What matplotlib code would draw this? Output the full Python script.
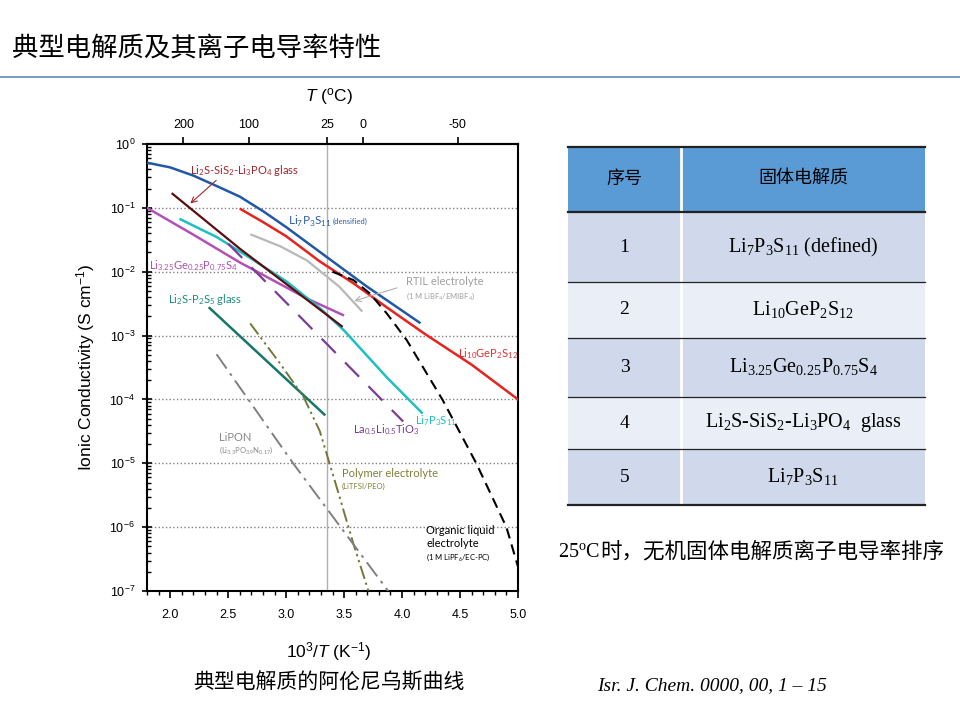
import re
import numpy as np
import matplotlib
matplotlib.use('Agg')
import matplotlib.pyplot as plt
from matplotlib.patches import Rectangle
from matplotlib.ticker import FixedLocator, FuncFormatter

plt.rcParams['font.family'] = ['Liberation Sans', 'Noto Sans CJK SC']
plt.rcParams['mathtext.fontset'] = 'custom'
plt.rcParams['mathtext.rm'] = 'Liberation Serif'
plt.rcParams['mathtext.it'] = 'Liberation Sans:italic'
plt.rcParams['mathtext.sf'] = 'Liberation Sans'
plt.rcParams['mathtext.tt'] = 'Lato'

# ---- data (x = 1000/T in 1/K, sigma in S/cm) ----
temps_c = [200, 100, 25, 0, -50]

li7_dens_x = [1.80, 2.00, 2.20, 2.40, 2.60, 2.80, 3.00, 3.35, 3.70, 4.15]
li7_dens_s = [5.1e-1, 4.3e-1, 3.2e-1, 2.2e-1, 1.5e-1, 8.9e-2, 5.0e-2, 1.7e-2, 5.8e-3, 1.6e-3]

lgps_x = [2.61, 2.80, 3.00, 3.29, 3.58, 3.87, 4.20, 4.60, 5.00]
lgps_s = [9.5e-2, 6.0e-2, 3.6e-2, 1.45e-2, 6.6e-3, 2.75e-3, 1.05e-3, 3.5e-4, 1.0e-4]

sis_glass_x = [2.02, 2.60, 3.48]
sis_glass_s = [1.66e-1, 2.3e-2, 1.4e-3]

lgps325_x = [1.80, 2.20, 2.60, 3.18, 3.49]
lgps325_s = [1.0e-1, 3.8e-2, 1.4e-2, 3.8e-3, 2.1e-3]

li7_x = [2.09, 2.40, 2.70, 3.00, 3.30, 3.50, 3.87, 4.17]
li7_s = [6.6e-2, 3.5e-2, 1.6e-2, 7.1e-3, 2.6e-3, 1.2e-3, 2.2e-4, 6.2e-5]

rtil_x = [2.70, 2.95, 3.18, 3.46, 3.65]
rtil_s = [3.8e-2, 2.5e-2, 1.5e-2, 5.8e-3, 2.45e-3]

organic_x = [3.40, 3.58, 3.72, 3.87, 4.04, 4.35, 4.64, 4.90, 5.00]
organic_s = [1.0e-2, 7.4e-3, 4.6e-3, 2.2e-3, 8.5e-4, 9.8e-5, 1.0e-5, 1.0e-6, 2.4e-7]

polymer_x = [2.69, 2.95, 3.15, 3.29, 3.35, 3.44, 3.58, 3.71]
polymer_s = [1.55e-3, 3.6e-4, 1.1e-4, 3.2e-5, 1.4e-5, 4.0e-6, 5.5e-7, 1.0e-7]

lipon_x = [2.40, 3.06, 3.88]
lipon_s = [5.1e-4, 1.0e-5, 1.0e-7]

ps_glass_x = [2.34, 3.33]
ps_glass_s = [2.7e-3, 5.8e-5]

llto_x = [2.50, 4.01]
llto_s = [2.75e-2, 4.5e-5]

# table
table_header = ['序号', '固体电解质']
table_rank = ['1', '2', '3', '4', '5']
table_names = ['Li_{7}P_{3}S_{11} (defined)', 'Li_{10}GeP_{2}S_{12}',
               'Li_{3.25}Ge_{0.25}P_{0.75}S_{4}', 'Li_{2}S-SiS_{2}-Li_{3}PO_{4}  glass',
               'Li_{7}P_{3}S_{11}']


def chem(s, cmd):
    return re.sub(r'_\{([^}]*)\}', lambda m: '$_{\\%s{%s}}$' % (cmd, m.group(1)), s)


fig = plt.figure(figsize=(9.6, 7.2), dpi=100)

# ---- slide background layer (pixel coordinates) ----
bg = fig.add_axes([0, 0, 1, 1])
bg.set_xlim(0, 960)
bg.set_ylim(720, 0)
bg.axis('off')

bg.text(12, 48, '典型电解质及其离子电导率特性', fontsize=19, va='center', ha='left',
        family=['Noto Sans CJK SC'])
bg.plot([0, 960], [77, 77], color='#7094bd', lw=1.3)

bg.text(329, 683, '典型电解质的阿伦尼乌斯曲线', fontsize=15, va='center', ha='center',
        family=['Noto Sans CJK SC'])
bg.text(597, 686, 'Isr. J. Chem. 0000, 00, 1 – 15', fontsize=14, style='italic',
        va='center', ha='left', family=['Liberation Serif'])

row_edges = [147, 212, 282, 338, 397, 449, 505]
col_edges = [568, 681, 925]
row_colors = ['#5b9bd5', '#cfd9eb', '#e9eef7', '#cfd9eb', '#e9eef7', '#cfd9eb']
for i, c in enumerate(row_colors):
    bg.add_patch(Rectangle((col_edges[0], row_edges[i]), col_edges[2] - col_edges[0],
                           row_edges[i + 1] - row_edges[i], facecolor=c, edgecolor='none'))
bg.plot([col_edges[1], col_edges[1]], [row_edges[0], row_edges[-1]], color='white', lw=2)
for i, yv in enumerate(row_edges):
    bg.plot([col_edges[0], col_edges[2]], [yv, yv], color='#222222',
            lw=1.6 if i in (0, 1, len(row_edges) - 1) else 0.9)

tfam = ['Liberation Serif', 'Noto Sans CJK SC']
cx0 = (col_edges[0] + col_edges[1]) / 2
cx1 = (col_edges[1] + col_edges[2]) / 2
yc = (row_edges[0] + row_edges[1]) / 2
bg.text(cx0, yc, table_header[0], fontsize=13, ha='center', va='center', family=tfam)
bg.text(cx1, yc, table_header[1], fontsize=13, ha='center', va='center', family=tfam)
for i, (r, n) in enumerate(zip(table_rank, table_names)):
    yc = (row_edges[i + 1] + row_edges[i + 2]) / 2
    bg.text(cx0, yc, r, fontsize=14, ha='center', va='center', family=tfam)
    bg.text(cx1, yc, chem(n, 'mathrm'), fontsize=14.5, ha='center', va='center', family=tfam)

note_t = bg.text(558, 558, '25$^{\\mathrm{o}}$C', fontsize=14.5, ha='left', va='baseline',
                 family=['Liberation Serif'])
bg.annotate('时，无机固体电解质离子电导率排序', xy=(1, 0), xycoords=note_t,
            fontsize=15.5, ha='left', va='bottom', family=['Noto Sans CJK SC'])

# ---- Arrhenius chart ----
ax = fig.add_axes([147 / 960, 1 - 591 / 720, 371 / 960, 447 / 720])
ax.set_yscale('log')
ax.set_xlim(1.8, 5.0)
ax.set_ylim(1e-7, 1)

for k in range(1, 7):
    ax.axhline(10.0 ** -k, color='#808080', ls=':', lw=1, zorder=1)
ax.axvline(1000 / 298.15, color='#b0b0b0', lw=1, zorder=1)

ax.plot(li7_dens_x, li7_dens_s, color='#2158a6', lw=1.8, zorder=3)
ax.plot(lgps_x, lgps_s, color='#e8231f', lw=1.8, zorder=3)
ax.plot(rtil_x, rtil_s, color='#b8b8b8', lw=1.6, zorder=2)
ax.plot(lgps325_x, lgps325_s, color='#b251b5', lw=1.8, zorder=3)
ax.plot(li7_x, li7_s, color='#1cbfc2', lw=1.8, zorder=3)
ax.plot(sis_glass_x, sis_glass_s, color='#5e0d10', lw=1.6, zorder=4)
ax.plot(ps_glass_x, ps_glass_s, color='#16766a', lw=1.8, zorder=3)
ax.plot(llto_x, llto_s, color='#7a3d96', lw=1.6, dashes=(9, 6), zorder=3)
ax.plot(organic_x, organic_s, color='black', lw=1.5, dashes=(5, 3), zorder=3)
ax.plot(polymer_x, polymer_s, color='#76763a', lw=1.4, dashes=(7, 2, 1.2, 2, 1.2, 2), zorder=3)
ax.plot(lipon_x, lipon_s, color='#808080', lw=1.4, dashes=(9, 3, 1.5, 3), zorder=3)

lf = ['Lato', 'DejaVu Sans']
ax.text(2.17, 10 ** -0.42, chem('Li_{2}S-SiS_{2}-Li_{3}PO_{4} glass', 'mathtt'), color='#a0282d',
        fontsize=8, va='center', family=lf)
ax.annotate('', xy=(2.156, 10 ** -0.96), xytext=(2.415, 10 ** -0.54),
            arrowprops=dict(arrowstyle='->', color='#a0282d', lw=0.8))
ax.text(3.02, 10 ** -1.22, chem('Li_{7}P_{3}S_{11}', 'mathtt'), color='#2d5ea8',
        fontsize=8.5, va='center', family=lf)
ax.text(3.40, 10 ** -1.21, '(densified)', color='#2d5ea8', fontsize=5.5, va='center', family=lf)
ax.text(1.82, 10 ** -1.90, chem('Li_{3.25}Ge_{0.25}P_{0.75}S_{4}', 'mathtt'), color='#b04fb0',
        fontsize=8, va='center', family=lf)
ax.text(1.98, 10 ** -2.43, chem('Li_{2}S-P_{2}S_{5} glass', 'mathtt'), color='#1d8c7c',
        fontsize=8, va='center', family=lf)
ax.text(4.03, 10 ** -2.16, 'RTIL electrolyte', color='#a0a0a0', fontsize=8, va='center', family=lf)
ax.text(4.03, 10 ** -2.38, chem('(1 M LiBF_{4}/EMIBF_{4})', 'mathtt'), color='#a0a0a0',
        fontsize=5.5, va='center', family=lf)
ax.annotate('', xy=(3.565, 10 ** -2.47), xytext=(3.98, 10 ** -2.24),
            arrowprops=dict(arrowstyle='->', color='#b0b0b0', lw=0.8))
ax.text(4.48, 10 ** -3.28, chem('Li_{10}GeP_{2}S_{12}', 'mathtt'), color='#e83030',
        fontsize=8, va='center', family=lf)
ax.text(4.11, 10 ** -4.33, chem('Li_{7}P_{3}S_{11}', 'mathtt'), color='#20c0c0',
        fontsize=8, va='center', family=lf)
ax.text(3.58, 10 ** -4.48, chem('La_{0.5}Li_{0.5}TiO_{3}', 'mathtt'), color='#7a3d96',
        fontsize=8, va='center', family=lf)
ax.text(2.42, 10 ** -4.59, 'LiPON', color='#8a8a8a', fontsize=8, va='center', family=lf)
ax.text(2.42, 10 ** -4.80, chem('(Li_{3.3}PO_{3.9}N_{0.17})', 'mathtt'), color='#8a8a8a',
        fontsize=5.5, va='center', family=lf)
ax.text(3.48, 10 ** -5.16, 'Polymer electrolyte', color='#7f7f3a', fontsize=8, va='center', family=lf)
ax.text(3.48, 10 ** -5.36, '(LiTFSI/PEO)', color='#7f7f3a', fontsize=5.5, va='center', family=lf)
ax.text(4.21, 10 ** -6.05, 'Organic liquid', color='black', fontsize=8, va='center', family=lf)
ax.text(4.21, 10 ** -6.25, 'electrolyte', color='black', fontsize=8, va='center', family=lf)
ax.text(4.21, 10 ** -6.47, chem('(1 M LiPF_{6}/EC-PC)', 'mathtt'), color='black',
        fontsize=5.5, va='center', family=lf)

ax.xaxis.set_major_locator(FixedLocator(np.arange(2.0, 5.01, 0.5)))
ax.xaxis.set_minor_locator(FixedLocator(np.arange(1.8, 5.01, 0.1)))
ax.xaxis.set_major_formatter(FuncFormatter(lambda v, p: '%.1f' % v))
ax.yaxis.set_major_locator(FixedLocator([10.0 ** -k for k in range(0, 8)]))
ax.yaxis.set_major_formatter(FuncFormatter(
    lambda v, p: '$\\mathsf{10^{%d}}$' % round(np.log10(v))))
ax.tick_params(axis='x', which='major', direction='out', length=5, width=1.2, labelsize=9, pad=8)
ax.tick_params(axis='x', which='minor', direction='out', length=3, width=1)
ax.tick_params(axis='y', which='major', direction='inout', length=7, width=1.2, labelsize=9, pad=5)
ax.tick_params(axis='y', which='minor', direction='in', length=3, width=1)
for sp in ax.spines.values():
    sp.set_linewidth(1.5)

top = ax.secondary_xaxis('top')
top.set_xticks([1000 / (t + 273.15) for t in temps_c], labels=[str(t) for t in temps_c])
top.tick_params(direction='out', length=5, width=1.2, labelsize=9, pad=4)
top.spines['top'].set_linewidth(1.5)

ax.set_xlabel('$\\mathsf{10^{3}}$/$\\mathit{T}$ (K$^{\\mathsf{-1}}$)', fontsize=12.5)
ax.xaxis.set_label_coords(0.49, -0.11)
ax.set_ylabel('Ionic Conductivity (S cm$^{\\mathsf{-1}}$)', fontsize=12.5)
ax.yaxis.set_label_coords(-0.135, 0.5)
ax.text(0.49, 1.107, '$\\mathit{T}$ ($^{\\mathsf{o}}$C)', transform=ax.transAxes,
        fontsize=12.5, ha='center', va='center')

fig.savefig('out.png', dpi=100)
